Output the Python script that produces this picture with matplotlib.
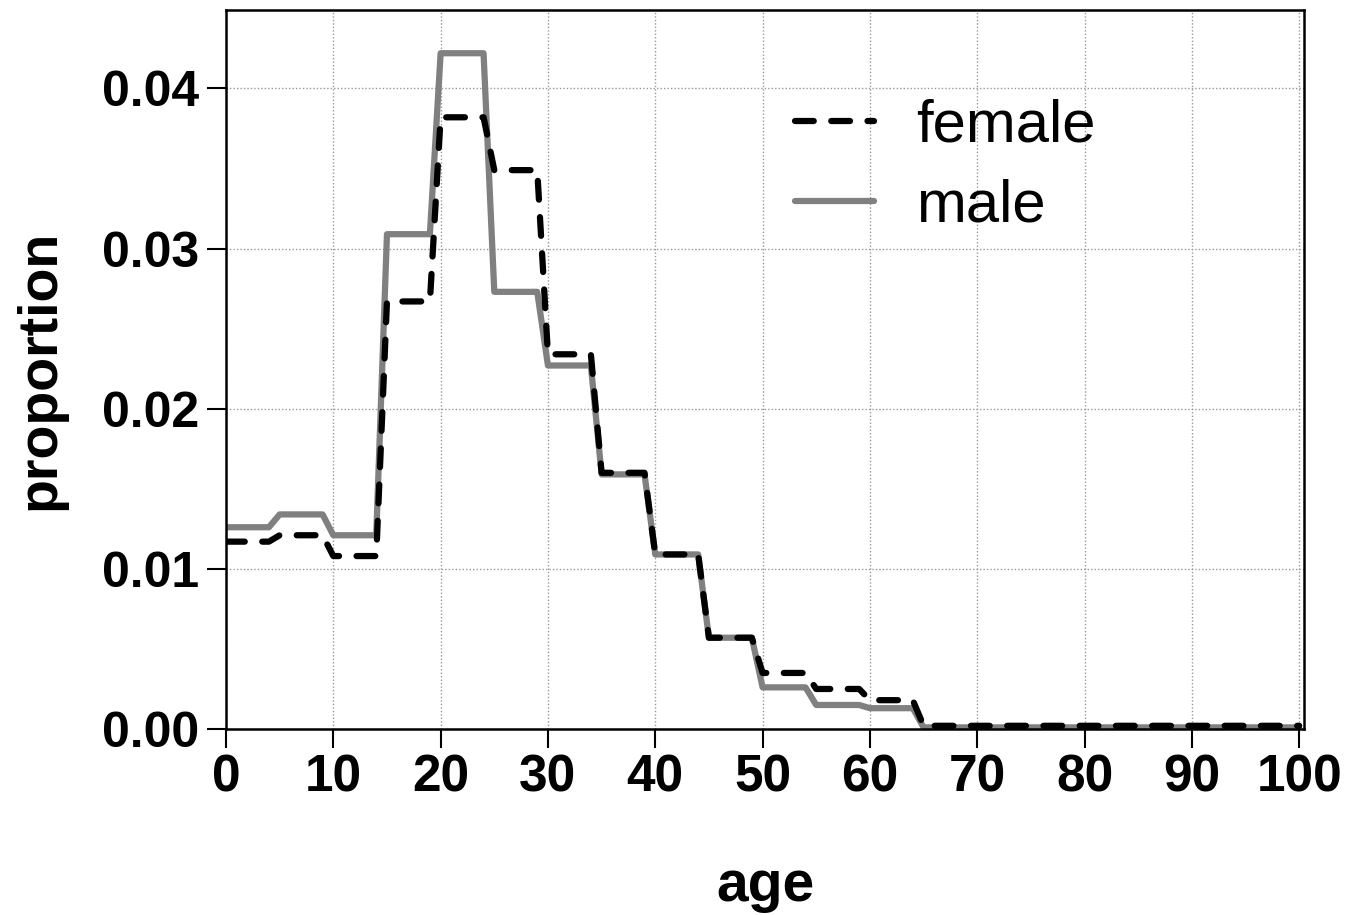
import numpy as np
import matplotlib
matplotlib.use("Agg")
import matplotlib.pyplot as plt

# proportion by 5-year age group (0-4, 5-9, ..., 95-99, 100)
female = [0.0117, 0.0121, 0.0108, 0.0267, 0.0382, 0.0349, 0.0234, 0.0160,
          0.0109, 0.0057, 0.0035, 0.0025, 0.0018,
          0.0002, 0.0002, 0.0002, 0.0002, 0.0002, 0.0002, 0.0002, 0.0002]
male = [0.0126, 0.0134, 0.0121, 0.0309, 0.0422, 0.0273, 0.0227, 0.0159,
        0.0109, 0.0057, 0.0026, 0.0015, 0.0013,
        0.0001, 0.0001, 0.0001, 0.0001, 0.0001, 0.0001, 0.0001, 0.0001]

ages = np.arange(101)
female_by_age = np.repeat(female, 5)[:101]
male_by_age = np.repeat(male, 5)[:101]

plt.rcParams['font.family'] = ['Liberation Sans', 'DejaVu Sans']

fig = plt.figure(figsize=(13.49, 9.15), dpi=100)
ax = fig.add_axes([226 / 1349, 1 - 729 / 915, 1078 / 1349, 719 / 915])

l_male, = ax.plot(ages, male_by_age, color='#808080', lw=4.5,
                  solid_capstyle='round', label='male')
l_female, = ax.plot(ages, female_by_age, color='black', lw=4.5,
                    dashes=(3.0, 2.8), dash_capstyle='round', label='female')

ax.set_xlim(0, 100.45)
ax.set_ylim(0, 0.0449)
ax.set_xticks(np.arange(0, 101, 10))
ax.set_yticks([0, 0.01, 0.02, 0.03, 0.04])
ax.set_yticklabels(['0.00', '0.01', '0.02', '0.03', '0.04'])

ax.grid(True, color='#999999', linestyle=(0, (1, 1.5)), linewidth=1.0)
ax.set_axisbelow(True)

for s in ax.spines.values():
    s.set_linewidth(1.8)

ax.tick_params(axis='both', direction='out', length=14, width=1.5)
ax.tick_params(axis='y', pad=5)
ax.tick_params(axis='x', pad=4)
for lab in ax.get_yticklabels():
    lab.set_fontsize(36)
    lab.set_fontweight('bold')
for lab in ax.get_xticklabels():
    lab.set_fontsize(37)
    lab.set_fontweight('bold')
    lab.set_fontstretch('condensed')

ax.set_xlabel('age', fontsize=41, fontweight='bold', labelpad=40)
ax.set_ylabel('proportion', fontsize=40, fontweight='bold', labelpad=26)

ax.legend(handles=[l_female, l_male], loc='upper left',
          bbox_to_anchor=(0.5, 0.918), frameon=False, fontsize=43,
          handlelength=1.33, handletextpad=0.7, labelspacing=0.42,
          borderpad=0)

fig.savefig('out.png', dpi=100)
